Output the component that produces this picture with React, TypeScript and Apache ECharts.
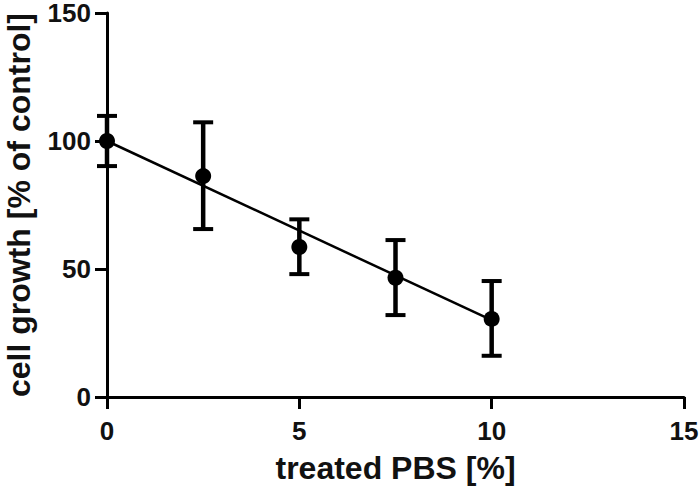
import React, { useEffect, useRef } from "react";
import * as echarts from "echarts";

const doses = [0, 2.5, 5, 7.5, 10];
const means = [100, 86.3, 58.6, 46.6, 30.5];
const upper = [109.8, 107.3, 69.4, 61.3, 45.3];
const lower = [90.2, 65.6, 48.0, 32.0, 16.1];
const fitLine = [
  [0, 100],
  [10, 30],
];
const xTicks = { min: 0, max: 15, interval: 5 };
const yTicks = { min: 0, max: 150, interval: 50 };
const xTitle = "treated PBS [%]";
const yTitle = "cell growth [% of control]";

export default function App() {
  const ref = useRef<HTMLDivElement>(null);
  useEffect(() => {
    if (!ref.current) return;
    const chart = echarts.init(ref.current, undefined, { renderer: "svg" });
    const font = "Liberation Sans, Arial, sans-serif";
    const errData = doses.map((d, i) => [d, lower[i], upper[i]]);
    chart.setOption({
      animation: false,
      backgroundColor: "#ffffff",
      grid: { left: 107, right: 16, top: 13, bottom: 92, containLabel: false, outerBoundsMode: "none" },
      xAxis: {
        type: "value",
        min: xTicks.min,
        max: xTicks.max,
        interval: xTicks.interval,
        name: xTitle,
        nameLocation: "middle",
        nameGap: 55,
        nameTextStyle: { fontFamily: font, fontSize: 32, fontWeight: "bold", color: "#111" },
        axisLine: { lineStyle: { color: "#000", width: 3 } },
        axisTick: { show: true, length: 12, lineStyle: { color: "#000", width: 3 } },
        axisLabel: { fontFamily: font, fontSize: 26, fontWeight: "bold", color: "#111", margin: 21 },
        splitLine: { show: false },
      },
      yAxis: {
        type: "value",
        min: yTicks.min,
        max: yTicks.max,
        interval: yTicks.interval,
        name: yTitle,
        nameLocation: "middle",
        nameGap: 72,
        nameTextStyle: { fontFamily: font, fontSize: 32, fontWeight: "bold", color: "#111" },
        axisLine: { show: true, lineStyle: { color: "#000", width: 3 } },
        axisTick: { show: true, length: 12, lineStyle: { color: "#000", width: 3 } },
        axisLabel: { fontFamily: font, fontSize: 26, lineHeight: 22, fontWeight: "bold", color: "#111", margin: 16 },
        splitLine: { show: false },
      },
      series: [
        {
          type: "line",
          data: fitLine,
          showSymbol: false,
          symbol: "none",
          lineStyle: { color: "#000", width: 2.5 },
          z: 2,
        },
        {
          type: "custom",
          data: errData,
          z: 3,
          renderItem: (params: any, api: any) => {
            const x = api.value(0);
            const lo = api.coord([x, api.value(1)]);
            const hi = api.coord([x, api.value(2)]);
            const half = 10;
            const style = { stroke: "#000", lineWidth: 4.5 };
            return {
              type: "group",
              children: [
                { type: "line", shape: { x1: lo[0], y1: lo[1], x2: hi[0], y2: hi[1] }, style },
                { type: "line", shape: { x1: hi[0] - half, y1: hi[1], x2: hi[0] + half, y2: hi[1] }, style: { stroke: "#000", lineWidth: 4 } },
                { type: "line", shape: { x1: lo[0] - half, y1: lo[1], x2: lo[0] + half, y2: lo[1] }, style: { stroke: "#000", lineWidth: 4 } },
              ],
            };
          },
        },
        {
          type: "scatter",
          data: doses.map((d, i) => [d, means[i]]),
          symbol: "circle",
          symbolSize: 16,
          itemStyle: { color: "#000", opacity: 1 },
          z: 4,
        },
      ],
    });
    return () => chart.dispose();
  }, []);
  return <div ref={ref} style={{ width: 700, height: 489, position: "absolute", left: 0, top: 0 }} />;
}
